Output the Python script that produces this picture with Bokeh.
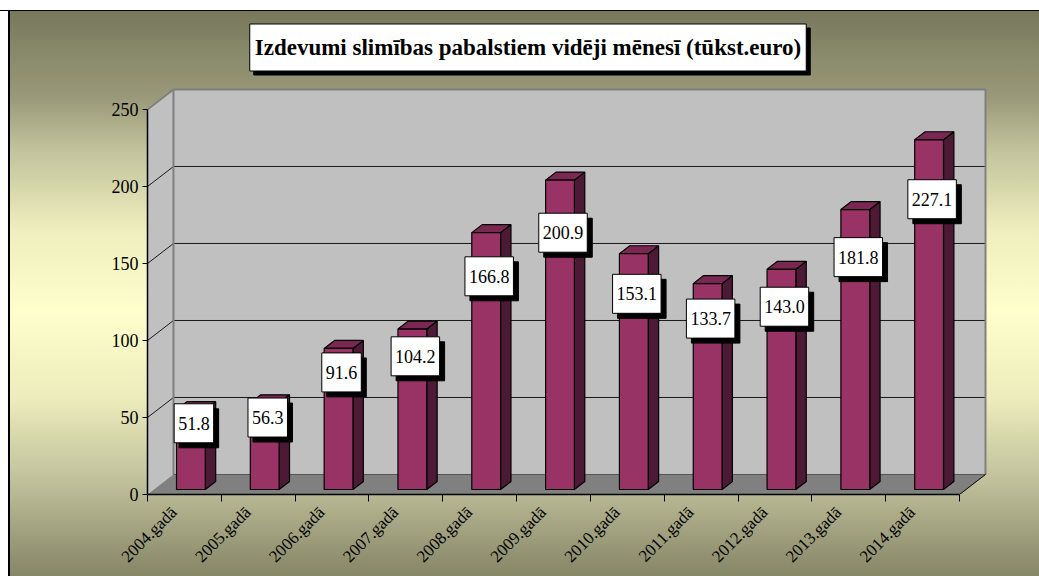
import numpy as np
from bokeh.plotting import figure
from bokeh.models import FixedTicker, Label, Range1d
from bokeh.embed import file_html
from bokeh.resources import INLINE

categories = ["2004.gadā", "2005.gadā", "2006.gadā", "2007.gadā", "2008.gadā",
              "2009.gadā", "2010.gadā", "2011.gadā", "2012.gadā", "2013.gadā", "2014.gadā"]
values = [51.8, 56.3, 91.6, 104.2, 166.8, 200.9, 153.1, 133.7, 143.0, 181.8, 227.1]
y_ticks = [0, 50, 100, 150, 200, 250]
title_text = "Izdevumi slimības pabalstiem vidēji mēnesī (tūkst.euro)"

FONT = "Liberation Serif"
n = len(categories)
DX, DY = 0.352, 13.0          # full depth of the 3D box, in data units
X0, X1 = -0.5, n - 0.5
YMAX = y_ticks[-1]
F0, FD = 0.25, 0.40           # bar front depth fraction, bar depth fraction
BW = 0.39                     # bar width
LABEL_SHIFT = -0.14           # category label shift (Excel-like anchoring)

# frame spans the whole chart area above the x axis so that the title can live inside it
Y_END = (YMAX + DY) * 483.0 / 405.0
X_END = X1 + DX + 54.0 / 73.82

p = figure(width=1039, height=576, x_range=Range1d(X0, X_END), y_range=Range1d(0, Y_END),
           output_backend="svg", toolbar_location=None,
           min_border_left=147, min_border_right=0, min_border_top=11, min_border_bottom=82,
           background_fill_color=None, border_fill_color=None, outline_line_color=None)
p.grid.visible = False
p.styles = {
    "background": "linear-gradient(to bottom, #ffffff 0px, #ffffff 10px, #000000 10px, #000000 11px, transparent 11px), "
                  "linear-gradient(to right, #ffffff 0px, #ffffff 8px, #000000 8px, #000000 10px, transparent 10px), "
                  "linear-gradient(to bottom, #75755a 0%, #77775c 1.7%, #9a9a7a 17%, #c2c29c 26%, #eeeebe 40%, "
                  "#ffffcc 54%, #ececbc 69%, #c5c59f 82%, #868668 100%)"
}

# walls and floor
p.quad(left=X0 + DX, right=X1 + DX, bottom=DY, top=YMAX + DY, fill_color="#c0c0c0", line_color=None)
p.patch([X0, X0 + DX, X0 + DX, X0], [0, DY, YMAX + DY, YMAX], fill_color="#c0c0c0", line_color=None)
p.patch([X0, X1, X1 + DX, X0 + DX], [0, 0, DY, DY], fill_color="#808080", line_color=None)

# grid lines on back and left walls
gx, gy = [], []
for v in y_ticks[1:-1]:
    gx.append([X0, X0 + DX, X1 + DX]); gy.append([v, v + DY, v + DY])
p.multi_line(gx, gy, line_color="#1a1a1a", line_width=1)
# wall edges
p.line([X0, X0 + DX, X1 + DX, X1 + DX], [YMAX, YMAX + DY, YMAX + DY, DY], line_color="#808080", line_width=2)
p.line([X0 + DX, X0 + DX], [DY, YMAX + DY], line_color="#808080", line_width=2)
p.line([X0 + DX, X1 + DX], [DY, DY], line_color="#555555", line_width=1)
p.line([X1, X1 + DX], [0, DY], line_color="#000000", line_width=1)

# 3D bars
fx, fy, sx, sy, tx, ty = [], [], [], [], [], []
for i, v in enumerate(values):
    xl = i - BW / 2 + F0 * DX
    xr = i + BW / 2 + F0 * DX
    yb = F0 * DY
    yt = v + F0 * DY
    ddx, ddy = FD * DX, FD * DY
    fx.append([xl, xr, xr, xl]); fy.append([yb, yb, yt, yt])
    sx.append([xr, xr + ddx, xr + ddx, xr]); sy.append([yb, yb + ddy, yt + ddy, yt])
    tx.append([xl, xr, xr + ddx, xl + ddx]); ty.append([yt, yt, yt + ddy, yt + ddy])
p.patches(sx, sy, fill_color="#4d1a36", line_color="black", line_width=1.2)
p.patches(tx, ty, fill_color="#7a2852", line_color="black", line_width=1.2)
p.patches(fx, fy, fill_color="#993366", line_color="black", line_width=1.2)

# value labels with shadow
for i, v in enumerate(values):
    for shadow in (True, False):
        p.add_layout(Label(
            x=i + F0 * DX, y=0.83 * v + F0 * DY,
            x_offset=3 + (5 if shadow else 0), y_offset=(-5 if shadow else 0),
            text=f"{v:.1f}", text_align="center", text_baseline="middle",
            text_font=FONT, text_font_size="18px", text_color="black",
            background_fill_color="black" if shadow else "white",
            border_line_color="black", border_line_width=1,
            padding=dict(left=4, right=4, top=13, bottom=13)))

# title with shadow (screen units are relative to the plot frame)
for shadow in (True, False):
    p.add_layout(Label(
        x=380.5 + (4 if shadow else 0), y=447 - (4 if shadow else 0),
        x_units="screen", y_units="screen",
        text=title_text, text_align="center", text_baseline="middle",
        text_font=FONT, text_font_size="23px", text_font_style="bold", text_color="black",
        background_fill_color="black" if shadow else "white",
        border_line_color="black", border_line_width=1,
        padding=dict(left=5, right=5, top=11, bottom=11)))

# axes
xa = p.xaxis[0]
tick_pos = [i + LABEL_SHIFT for i in range(n)]
xa.ticker = FixedTicker(ticks=tick_pos, minor_ticks=[i - 0.5 for i in range(n + 1)])
xa.major_label_overrides = {t: c for t, c in zip(tick_pos, categories)}
xa.major_label_orientation = np.pi / 4
xa.bounds = (X0, X1)
xa.major_tick_out = 0
xa.major_tick_in = 0
xa.minor_tick_out = 7
xa.minor_tick_in = 0
xa.minor_tick_line_color = "black"
xa.axis_line_color = "black"
xa.axis_line_width = 1.5
xa.major_label_standoff = 8
xa.major_label_text_font = FONT
xa.major_label_text_font_size = "17px"
xa.major_label_text_color = "black"

ya = p.yaxis[0]
ya.ticker = FixedTicker(ticks=y_ticks)
ya.bounds = (0, YMAX)
ya.major_tick_out = 5
ya.major_tick_in = 0
ya.minor_tick_out = 0
ya.minor_tick_in = 0
ya.axis_line_color = "black"
ya.axis_line_width = 1.5
ya.major_tick_line_color = "black"
ya.major_label_standoff = 4
ya.major_label_text_font = FONT
ya.major_label_text_font_size = "18px"
ya.major_label_text_color = "black"

open("out.html", "w").write(file_html(p, INLINE))
